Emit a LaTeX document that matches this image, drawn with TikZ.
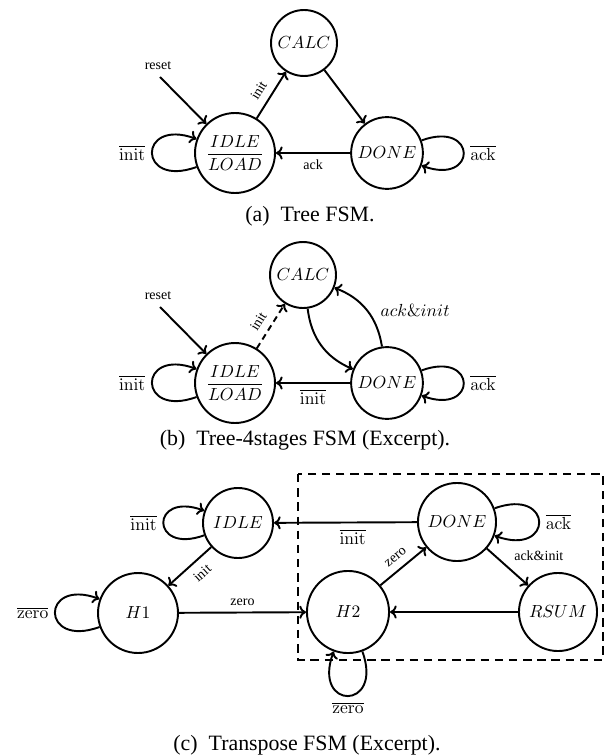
\documentclass[tikz,border=0pt]{standalone}
\usepackage[no-math]{fontspec}
\setmainfont{Liberation Serif}
\usetikzlibrary{arrows.meta}
\begin{document}
\begin{tikzpicture}[x=0.5714pt,y=-0.5714pt,
  st/.style={circle,draw,line width=1.1pt,inner sep=0pt},
  arr/.style={line width=1.1pt,-{To[length=3.8pt,width=7.5pt]}},
  lbl/.style={font=\footnotesize},
  captxt/.style={font=\fontsize{12.5}{15}\selectfont},
  dbox/.style={line width=1.1pt,dash pattern=on 4.8pt off 3.3pt},
  dsh/.style={dash pattern=on 3.5pt off 2.5pt},
  lpl/.style={out=200,in=160,distance=#1},
  lpr/.style={out=20,in=-20,distance=#1},
  lpb/.style={out=290,in=250,distance=#1}]
\useasboundingbox (0,0) rectangle (605,755);
% ---------------- (a)
\node[st,minimum size=37.7pt] (ca) at (304,43) {$CALC$};
\node[st,minimum size=45.7pt] (ia) at (235,153) {$\displaystyle\frac{IDLE}{LOAD}$};
\node[st,minimum size=41pt] (da) at (387,153) {$DONE$};
\coordinate (ra) at (160,77);
\node[lbl] (rla) at (158,66) {reset};
\draw[arr] (ra) -- (ia);
\draw[arr] (ia) -- node[lbl,sloped,above=1pt,pos=0.45] {init} (ca);
\draw[arr] (ca) -- (da);
\draw[arr] (da) -- node[lbl,below] {ack} (ia);
\draw[arr] (ia) to[lpl=36pt] node[left] {$\overline{\mathrm{init}}$} (ia);
\draw[arr] (da) to[lpr=34pt] node[right] {$\overline{\mathrm{ack}}$} (da);
\node[captxt] (capa) at (310,216) {(a)\ \ Tree FSM.};
% ---------------- (b)
\node[st,minimum size=37.7pt] (cb) at (303,275) {$CALC$};
\node[st,minimum size=45.7pt] (ib) at (235,383) {$\displaystyle\frac{IDLE}{LOAD}$};
\node[st,minimum size=41pt] (db) at (387,383) {$DONE$};
\coordinate (rb) at (160,307);
\node[lbl] (rlb) at (158,296) {reset};
\draw[arr] (rb) -- (ib);
\draw[arr,dsh] (ib) -- node[lbl,sloped,above=1pt,pos=0.45] {init} (cb);
\draw[arr] (cb) to[bend right=30] (db);
\draw[arr] (db) to[bend right=30] node[right,xshift=4pt] {$ack\&init$} (cb);
\draw[arr] (db) -- node[below] {$\overline{\mathrm{init}}$} (ib);
\draw[arr] (ib) to[lpl=36pt] node[left] {$\overline{\mathrm{init}}$} (ib);
\draw[arr] (db) to[lpr=34pt] node[right] {$\overline{\mathrm{ack}}$} (db);
\node[captxt] (capb) at (305,440) {(b)\ \ Tree-4stages FSM (Excerpt).};
% ---------------- (c)
\node[st,minimum size=40pt] (ic) at (238,523) {$IDLE$};
\node[st,minimum size=45.7pt] (h1) at (138,613) {$H1$};
\node[st,minimum size=46.9pt] (h2) at (348,612) {$H2$};
\node[st,minimum size=44.6pt] (dc) at (457,522) {$DONE$};
\node[st,minimum size=44.6pt] (rs) at (558,612) {$RSUM$};
\draw[dbox] (298,474) rectangle (603,660);
\draw[arr] (dc) -- node[below,pos=0.45] {$\overline{\mathrm{init}}$} (ic);
\draw[arr] (ic) -- node[lbl,sloped,below=1pt,pos=0.42] {init} (h1);
\draw[arr] (h1) -- node[lbl,above] {zero} (h2);
\draw[arr] (h2) -- node[lbl,sloped,above=1pt] {zero} (dc);
\draw[arr] (dc) -- node[lbl,above right] {ack\&init} (rs);
\draw[arr] (rs) -- (h2);
\draw[arr] (ic) to[lpl=33pt] node[left] {$\overline{\mathrm{init}}$} (ic);
\draw[arr] (h1) to[lpl=36pt] node[left] {$\overline{\mathrm{zero}}$} (h1);
\draw[arr] (dc) to[lpr=36pt] node[right] {$\overline{\mathrm{ack}}$} (dc);
\draw[arr] (h2) to[lpb=36pt] node[below] {$\overline{\mathrm{zero}}$} (h2);
\node[captxt] (capc) at (307,745) {(c)\ \ Transpose FSM (Excerpt).};
\end{tikzpicture}
\end{document}
